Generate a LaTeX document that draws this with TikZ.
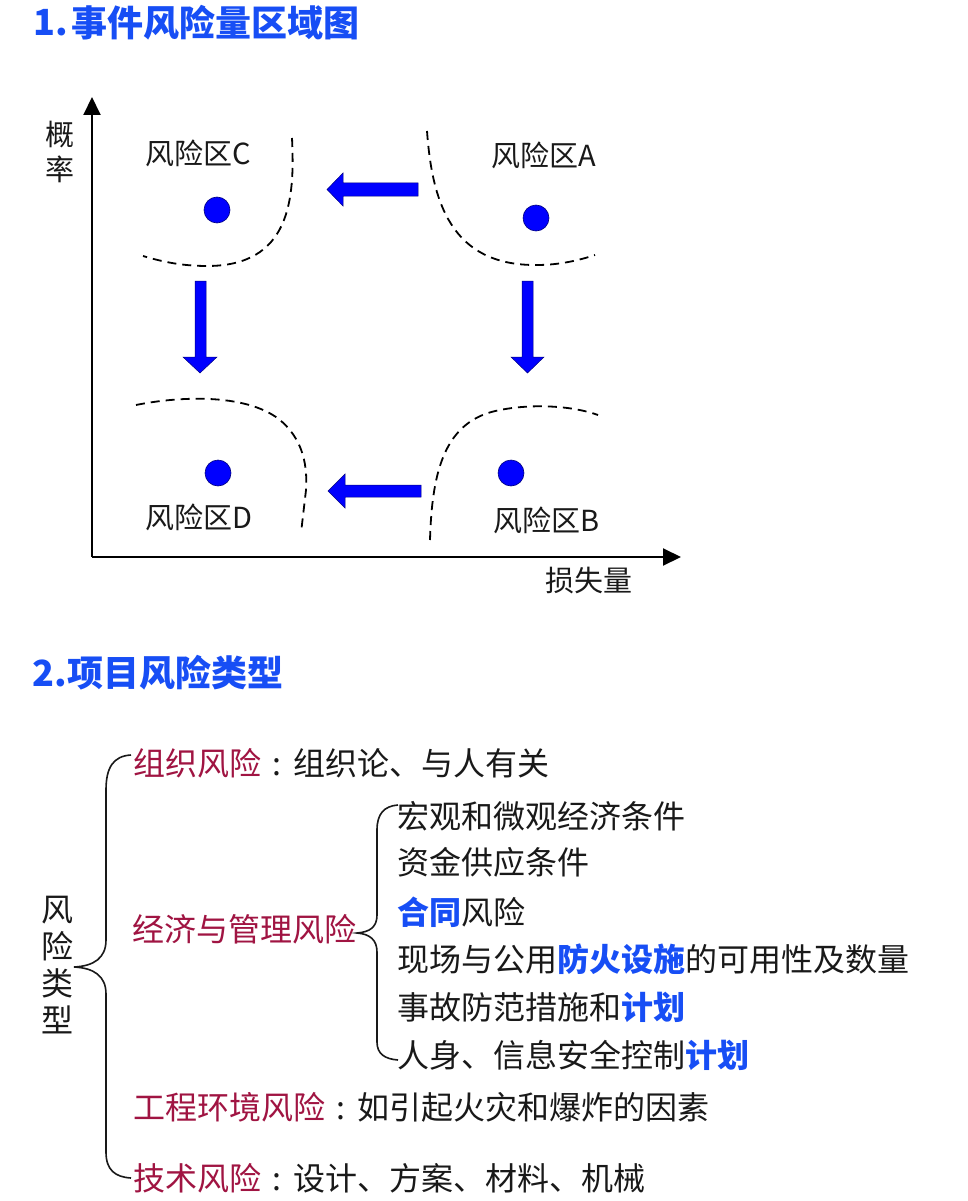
\documentclass[tikz,border=0pt]{standalone}
\usepackage{fontspec}
\setmainfont{Noto Sans CJK SC}
\usetikzlibrary{arrows.meta}
\definecolor{tblue}{RGB}{23,78,245}
\definecolor{tred}{RGB}{160,20,66}
\definecolor{ablue}{RGB}{0,0,255}
\definecolor{txt}{RGB}{25,25,25}
\newcommand\fcolon{\makebox[32pt][c]{:}}
\begin{document}
\begin{tikzpicture}[x=1pt,y=-1pt,
  title/.style={anchor=west,inner sep=0pt,text=tblue,font=\bfseries\fontsize{36}{42}\selectfont},
  axis/.style={line width=2pt,draw=black,-{Triangle[length=18pt,width=17pt]}},
  region/.style={inner sep=0pt,text=txt,font=\fontsize{29}{34}\selectfont},
  axlabel/.style={inner sep=0pt,text=txt,align=center,font=\fontsize{29}{35}\selectfont},
  dot/.style={circle,fill=ablue,draw=blue!50!black,line width=0.6pt,minimum size=26pt,inner sep=0pt},
  bound/.style={dash pattern=on 9pt off 6pt,line width=1.8pt,draw=black},
  barrow/.style={fill=ablue,draw=blue!50!black,line width=0.5pt},
  item/.style={anchor=west,inner sep=0pt,text=txt,font=\fontsize{32}{37}\selectfont},
  brace/.style={line width=1.6pt,draw=txt}
]
\useasboundingbox (0,0) rectangle (967,1201);
\fill[white] (0,0) rectangle (967,1201);

% ---------- Section 1 ----------
\node[title] (t1n) at (33,23) {1.};
\node[title] (t1) at (71,23) {事件风险量区域图};

\coordinate (O) at (92,557);
\coordinate (Ytip) at (92,97);
\coordinate (Xtip) at (681,557);
\draw[axis] (O) -- (Ytip);
\draw[axis] (O) -- (Xtip);
\node[axlabel] (ylab) at (60,152) {概\\率};
\node[axlabel] (xlab) at (589,581) {损失量};

% regions
\node[region] (lC) at (198,153) {风险区C};
\node[region] (lA) at (544,155) {风险区A};
\node[region] (lD) at (199,517) {风险区D};
\node[region] (lB) at (547,520) {风险区B};
\node[dot] (dC) at (217,210) {};
\node[dot] (dA) at (536,218) {};
\node[dot] (dD) at (218,473) {};
\node[dot] (dB) at (511,473) {};

% boundaries
\draw[bound] (292,138) .. controls (295,200) and (290,266) .. (207,266)
             .. controls (180,266) and (160,261) .. (143,256);
\draw[bound] (427,131) .. controls (432,200) and (450,266) .. (537,265)
             .. controls (560,265) and (580,260) .. (595,255);
\draw[bound] (136,405) .. controls (175,397) and (245,392) .. (280,420)
             .. controls (300,437) and (308,460) .. (306,490) -- (301,533);
\draw[bound] (430,540) .. controls (432,470) and (445,420) .. (500,410)
             .. controls (530,404) and (570,405) .. (598,415);

% block arrows
\draw[barrow] (418,183) -- (343,183) -- (343,173) -- (327,189.5) -- (343,206) -- (343,196) -- (418,196) -- cycle;
\draw[barrow] (421,485) -- (345,485) -- (345,474) -- (328,491) -- (345,508) -- (345,497) -- (421,497) -- cycle;
\draw[barrow] (195,281) -- (195,357) -- (183,357) -- (200,373) -- (217,357) -- (206,357) -- (206,281) -- cycle;
\draw[barrow] (522,281) -- (522,357) -- (511,357) -- (527.5,373) -- (544,357) -- (533,357) -- (533,281) -- cycle;

% ---------- Section 2 ----------
\node[title] (t2n) at (32,673) {2.};
\node[title] (t2) at (67,673) {项目风险类型};

\node[item,anchor=center,align=center] (root) at (57,965) {风\\险\\类\\型};

\node[item] (org) at (133,763) {\textcolor{tred}{组织风险}\fcolon 组织论、与人有关};
\node[item] (eco) at (132,929) {\textcolor{tred}{经济与管理风险}};
\node[item] (eng) at (133,1107) {\textcolor{tred}{工程环境风险}\fcolon 如引起火灾和爆炸的因素};
\node[item] (tec) at (133,1178) {\textcolor{tred}{技术风险}\fcolon 设计、方案、材料、机械};

\node[item] (e1) at (397,816) {宏观和微观经济条件};
\node[item] (e2) at (397,862) {资金供应条件};
\node[item] (e3) at (397,912) {\textcolor{tblue}{\bfseries 合同}风险};
\node[item] (e4) at (397,959) {现场与公用\textcolor{tblue}{\bfseries 防火设施}的可用性及数量};
\node[item] (e5) at (397,1007) {事故防范措施和\textcolor{tblue}{\bfseries 计划}};
\node[item] (e6) at (397,1055) {人身、信息安全控制\textcolor{tblue}{\bfseries 计划}};

% braces
\draw[brace] (131,755) .. controls (113,756) and (106,768) .. (106,790) -- (106,940)
   .. controls (106,958) and (94,966) .. (74,967)
   .. controls (94,968) and (106,976) .. (106,994) -- (106,1152)
   .. controls (106,1170) and (115,1177) .. (131,1178);
\draw[brace] (398,805) .. controls (384,806) and (377,814) .. (377,830) -- (377,915)
   .. controls (377,927) and (370,932) .. (357,933)
   .. controls (370,934) and (377,940) .. (377,952) -- (377,1042)
   .. controls (377,1054) and (385,1059) .. (398,1060);
\end{tikzpicture}
\end{document}
